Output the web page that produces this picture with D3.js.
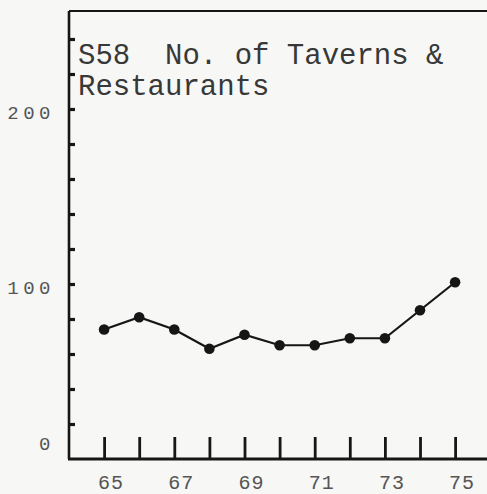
<!DOCTYPE html>
<html>
<head>
<meta charset="utf-8">
<script src="https://cdn.jsdelivr.net/npm/d3@7"></script>
<style>
  html, body { margin: 0; padding: 0; background: #f7f7f5; }
  svg { display: block; }
  text { font-family: "Liberation Mono", "DejaVu Sans Mono", monospace; }
</style>
</head>
<body>
<svg id="chart" width="487" height="494"></svg>
<script>
// Series: number of taverns & restaurants by year
const years = [65, 66, 67, 68, 69, 70, 71, 72, 73, 74, 75];
const counts = [74, 81, 74, 63, 71, 65, 65, 69, 69, 85, 101];

// Axis ticks and labels
const yTickValues = [20, 40, 60, 80, 100, 120, 140, 160, 180, 200, 220, 240];
const yLabelValues = [0, 100, 200];
const xLabelValues = [65, 67, 69, 71, 73, 75];
const titleLines = ["S58  No. of Taverns &", "Restaurants"];

const svg = d3.select("#chart");
const W = 487, H = 494;

const x = d3.scaleLinear().domain([64, 76]).range([69, 490.2]);
const y = d3.scaleLinear().domain([0, 256]).range([459, 11]);

const ink = "#161616";

// Frame: top rule and left/bottom axes
svg.append("line")
  .attr("x1", x(64)).attr("x2", W)
  .attr("y1", y(256)).attr("y2", y(256))
  .attr("stroke", ink).attr("stroke-width", 2.2);

// Left axis with short inward ticks
const yAxis = d3.axisRight(y)
  .tickValues(yTickValues)
  .tickSize(6)
  .tickFormat("");
const gy = svg.append("g")
  .attr("transform", `translate(${x(64)},0)`)
  .call(yAxis);
gy.select(".domain")
  .attr("d", `M0,${y(256)}V${y(0)}`)
  .attr("stroke", ink).attr("stroke-width", 2.6);
gy.selectAll(".tick line").attr("stroke", ink).attr("stroke-width", 3.2);

// Bottom axis with tall upward ticks
const xAxis = d3.axisBottom(x)
  .tickValues(years)
  .tickSize(-22)
  .tickFormat("");
const gx = svg.append("g")
  .attr("transform", `translate(0,${y(0)})`)
  .call(xAxis);
gx.select(".domain")
  .attr("d", `M${x(64) - 1},0H${W}`)
  .attr("stroke", ink).attr("stroke-width", 2.8);
gx.selectAll(".tick line").attr("stroke", ink).attr("stroke-width", 2.8);

// X labels (every other year)
svg.append("g").selectAll("text")
  .data(xLabelValues)
  .join("text")
  .attr("x", d => x(d) + 7)
  .attr("y", y(0) + 30)
  .attr("text-anchor", "middle")
  .attr("font-size", 20)
  .attr("letter-spacing", 1)
  .attr("fill", "#555")
  .text(d => String(d));

// Y labels
svg.append("g").selectAll("text")
  .data(yLabelValues)
  .join("text")
  .attr("x", 55)
  .attr("y", d => (d === 0 ? y(0) - 16 : y(d) + 3) + 7)
  .attr("text-anchor", "end")
  .attr("font-size", 19)
  .attr("letter-spacing", 4.5)
  .attr("fill", "#555")
  .text(d => String(d));

// Title
svg.append("g").selectAll("text")
  .data(titleLines)
  .join("text")
  .attr("x", 78)
  .attr("y", (d, i) => 64 + i * 31)
  .attr("font-size", 29)
  .attr("fill", "#383838")
  .attr("xml:space", "preserve")
  .style("white-space", "pre")
  .text(d => d);

// Line and markers
const pts = years.map((yr, i) => [yr, counts[i]]);
svg.append("path")
  .datum(pts)
  .attr("fill", "none")
  .attr("stroke", ink)
  .attr("stroke-width", 2.2)
  .attr("d", d3.line().x(d => x(d[0])).y(d => y(d[1])));

svg.append("g").selectAll("circle")
  .data(pts)
  .join("circle")
  .attr("cx", d => x(d[0]))
  .attr("cy", d => y(d[1]))
  .attr("r", 5.3)
  .attr("fill", ink);
</script>
</body>
</html>
